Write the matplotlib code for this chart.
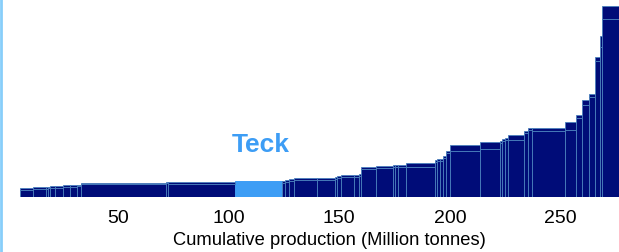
import numpy as np
import matplotlib.pyplot as plt
from matplotlib.lines import Line2D

plt.rcParams['font.family'] = ['Liberation Sans', 'DejaVu Sans']

# production of each operation (Mt), in cost order
start = 5.9
widths = [6.0, 5.73, 0.77, 1.04, 2.26, 3.75, 3.02, 2.93, 2.03, 38.2,
          1.17, 30.1, 21.4, 1.13, 1.94, 2.12, 10.5, 8.2, 0.9, 1.9,
          5.55, 2.4, 1.0, 6.86, 7.5, 1.08, 1.17, 3.8, 13.0, 0.81,
          1.22, 1.49, 1.35, 1.99, 13.5, 9.0, 0.9, 1.04, 1.49, 7.22,
          1.8, 1.9, 14.9, 4.97, 2.8, 2.98, 2.89, 1.94, 1.22, 7.5]
# total cost per operation (chart units)
total = [8.7, 9.7, 10, 10.5, 10.7, 10.7, 12, 12, 12.3, 14.3,
         15, 14.7, 16.3, 15.7, 17, 18, 19, 18.7, 20, 21,
         22, 22, 23, 30.3, 30.7, 32, 31.7, 32, 34, 37.3,
         38, 38, 41.3, 45.7, 52, 54.7, 56, 58, 59, 62,
         66.3, 68.7, 69, 75.3, 82, 97, 103, 139.7, 161.3, 191.3]
# upper cost component
extra = [1.7, 1.7, 1.5, 1.5, 1.7, 1.7, 1.7, 1.7, 1.7, 1.3,
         1.0, 1.3, 0.0, 1.5, 1.5, 1.5, 1.5, 1.5, 1.5, 1.5,
         1.5, 1.5, 1.5, 2.5, 2.0, 1.5, 1.5, 1.5, 4.3, 2.0,
         2.0, 2.0, 2.0, 2.0, 5.7, 6.7, 2.0, 2.0, 2.0, 4.7,
         2.0, 1.5, 3.3, 8.0, 3.0, 5.0, 2.7, 4.0, 11.0, 13.3]
teck = 12

widths = np.array(widths)
lefts = start + np.concatenate([[0], np.cumsum(widths)[:-1]])
base = np.array(total) - np.array(extra)

navy = '#000c78'
edge = '#4a80bd'
light = '#3d9df5'
fills = [light if i == teck else navy for i in range(len(widths))]
edges = [light if i == teck else edge for i in range(len(widths))]

fig = plt.figure(figsize=(6.19, 2.53), dpi=100)
ax = fig.add_axes([0, 55 / 253, 1, 198 / 253])
ax.bar(lefts, base, width=widths, align='edge', color=fills,
       edgecolor=edges, linewidth=0.6)
ax.bar(lefts, extra, bottom=base, width=widths, align='edge', color=fills,
       edgecolor=edges, linewidth=0.6)

ax.set_xlim(-3.16, 276.3)
ax.set_ylim(0, 198)
ax.set_xticks([50, 100, 150, 200, 250])
ax.tick_params(axis='x', length=0, labelsize=14, pad=9)
ax.set_yticks([])
for s in ax.spines.values():
    s.set_visible(False)
ax.set_xlabel('Cumulative production (Million tonnes)', fontsize=13.2,
              labelpad=3, x=0.533)

ax.text(lefts[teck] + widths[teck] / 2 + 1, 53, 'Teck', color=light,
        fontsize=19, fontweight='bold', ha='center', va='center')

fig.add_artist(Line2D([0.002, 0.002], [0, 1], color='#87cefa', lw=2))

fig.savefig('out.png', dpi=100)
